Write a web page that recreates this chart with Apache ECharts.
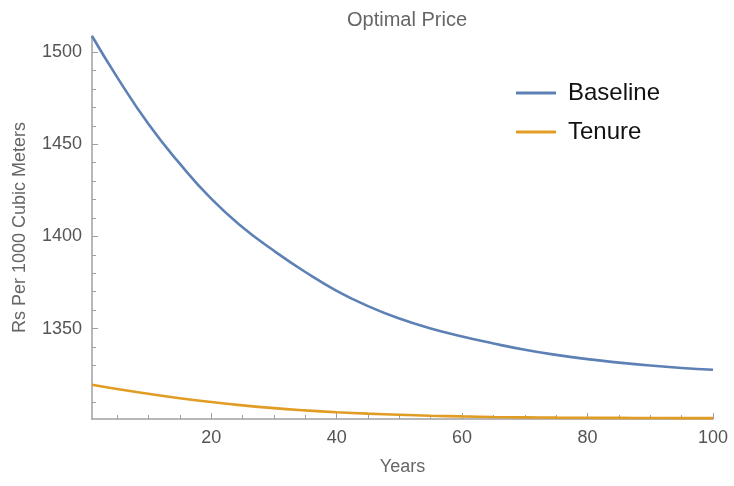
<!DOCTYPE html>
<html>
<head>
<meta charset="utf-8">
<script src="https://cdn.jsdelivr.net/npm/echarts@6/dist/echarts.min.js"></script>
<style>
html,body{margin:0;padding:0;background:#fff;}
#chart{width:734px;height:486px;}
</style>
</head>
<body>
<div id="chart"></div>
<script>
// years
var years=[1,5,10,15,20,25,30,35,40,45,50,55,60,65,70,75,80,85,90,95,100];
var baseline=[1508.8,1486.5,1461,1439.5,1420.5,1405,1392.2,1380.7,1370.5,1362.2,1355.4,1350,1345.7,1341.9,1338.5,1335.7,1333.4,1331.5,1329.9,1328.6,1327.6];
var tenure=[1319.5,1317.2,1314.6,1312.2,1310.1,1308.3,1306.8,1305.6,1304.6,1303.8,1303.2,1302.7,1302.3,1302,1301.8,1301.65,1301.55,1301.5,1301.45,1301.4,1301.4];
var xMajor=[20,40,60,80,100];
var xMinor=[5,10,15,25,30,35,45,50,55,65,70,75,85,90,95];
var yMajor=[1350,1400,1450,1500];
var yMinor=[1310,1320,1330,1340,1360,1370,1380,1390,1410,1420,1430,1440,1460,1470,1480,1490];

var FONT='"Liberation Sans", Arial, sans-serif';
var AXIS_COL='#a0a0a0';

function pairs(xs,ys){
	var out=[];
	for(var i=0;i<xs.length;i++){
		out.push([xs[i],ys[i]]);
	}
	return out;
}

var chart=echarts.init(document.getElementById('chart'),null,{renderer:'canvas'});

var option={
	animation:false,
	backgroundColor:'#fff',
	title:{
		text:'Optimal Price',
		left:402,
		top:5,
		textAlign:'center',
		textStyle:{fontFamily:FONT,fontSize:20,fontWeight:'normal',color:'#666'}
	},
	legend:{
		left:511,
		top:76,
		orient:'vertical',
		itemWidth:40,
		itemHeight:3,
		itemGap:15,
		icon:'rect',
		textStyle:{fontFamily:FONT,fontSize:24,color:'#111',padding:[0,0,0,7]},
		data:['Baseline','Tenure']
	},
	grid:{left:92,right:21,top:36,bottom:67,containLabel:false},
	xAxis:[{
		type:'value',
		min:1,max:100,
		name:'Years',
		nameLocation:'middle',
		nameGap:39,
		nameTextStyle:{fontFamily:FONT,fontSize:18,color:'#666'},
		axisLine:{lineStyle:{color:AXIS_COL,width:1.5}},
		axisTick:{inside:true,length:6,lineStyle:{color:AXIS_COL},customValues:xMajor},
		axisLabel:{fontFamily:FONT,fontSize:18,color:'#555',margin:10,customValues:xMajor},
		splitLine:{show:false}
	},{
		type:'value',
		min:1,max:100,
		position:'bottom',
		axisLine:{show:false},
		axisTick:{inside:true,length:4,lineStyle:{color:AXIS_COL},customValues:xMinor},
		axisLabel:{show:false},
		splitLine:{show:false}
	}],
	yAxis:[{
		type:'value',
		min:1300.9,max:1508.8,
		name:'Rs Per 1000 Cubic Meters',
		nameLocation:'middle',
		nameGap:63,
		nameTextStyle:{fontFamily:FONT,fontSize:18,color:'#666'},
		axisLine:{show:true,lineStyle:{color:AXIS_COL,width:1.5}},
		axisTick:{show:true,inside:true,length:6,lineStyle:{color:AXIS_COL},customValues:yMajor},
		axisLabel:{fontFamily:FONT,fontSize:18,color:'#555',margin:10,customValues:yMajor,
			formatter:function(v){return String(v);}},
		splitLine:{show:false}
	},{
		type:'value',
		min:1300.9,max:1508.8,
		position:'left',
		axisLine:{show:false},
		axisTick:{show:true,inside:true,length:4,lineStyle:{color:AXIS_COL},customValues:yMinor},
		axisLabel:{show:false},
		splitLine:{show:false}
	}],
	series:[{
		name:'Baseline',
		type:'line',
		smooth:0.5,
		showSymbol:false,
		color:'#5e81b5',
		lineStyle:{width:2.6,color:'#5e81b5'},
		data:pairs(years,baseline)
	},{
		name:'Tenure',
		type:'line',
		smooth:0.5,
		showSymbol:false,
		color:'#e19c24',
		lineStyle:{width:2.6,color:'#e19c24'},
		data:pairs(years,tenure)
	}]
};

chart.setOption(option);
</script>
</body>
</html>
